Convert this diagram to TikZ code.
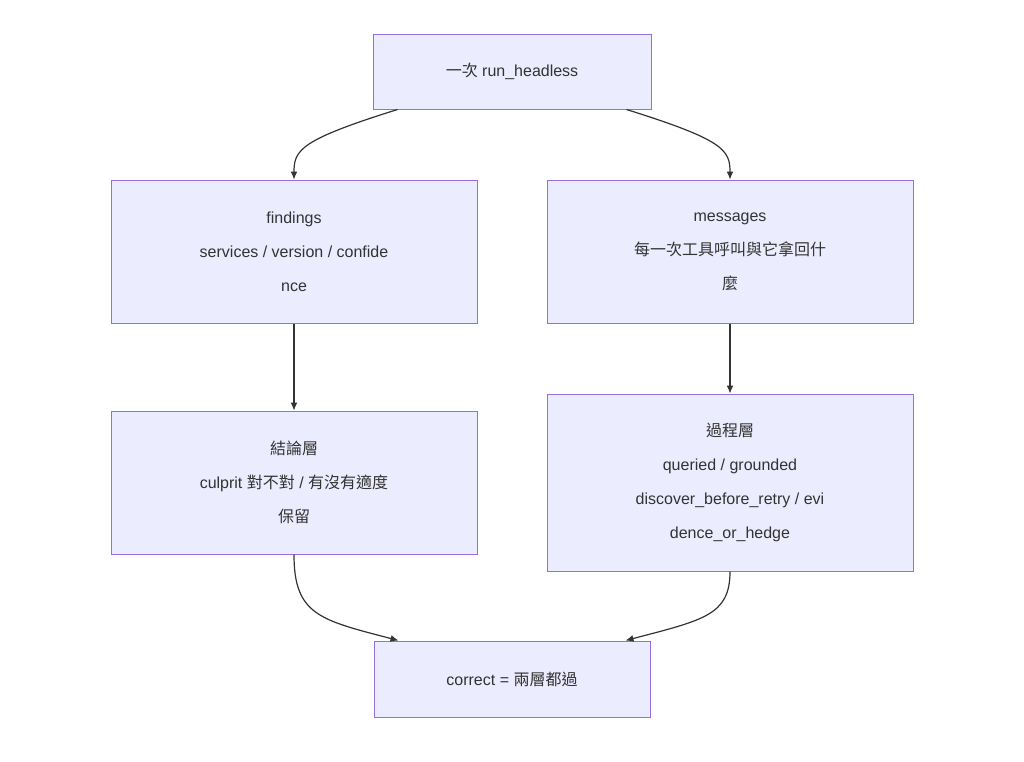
\documentclass[tikz,border=0pt]{standalone}
\usepackage{fontspec}
\usetikzlibrary{arrows.meta}
\setmainfont{Liberation Sans}
\newfontfamily\cjk{Noto Sans CJK TC}
\newcommand{\zh}[1]{{\cjk #1}}
\definecolor{nodefill}{HTML}{ECECFF}
\definecolor{nodeline}{HTML}{9370DB}
\definecolor{txt}{HTML}{333333}
\begin{document}
\begin{tikzpicture}[x=1pt,y=-1pt,
  box/.style={draw=nodeline,fill=nodefill,line width=1pt,inner sep=0pt,align=center,text=txt,
    font=\fontsize{16pt}{34pt}\selectfont},
  arr/.style={draw=txt,line width=1.2pt,-{Latex[length=8pt,width=7pt]}}]
\useasboundingbox (0,0) rectangle (1024,761);
\node[box,minimum width=278pt,minimum height=75pt] (top) at (512,71.5) {\zh{一次} run\_headless};
\node[box,minimum width=366pt,minimum height=143pt] (find) at (294,251.5) {findings\\services / version / confide\\nce};
\node[box,minimum width=366pt,minimum height=143pt] (msg) at (730,251.5) {messages\\\zh{每一次工具呼叫與它拿回什}\\\zh{麼}};
\node[box,minimum width=366pt,minimum height=143pt] (concl) at (294,482.5) {\zh{結論層}\\culprit \zh{對不對} / \zh{有沒有適度}\\\zh{保留}};
\node[box,minimum width=366pt,minimum height=177pt] (proc) at (730,482.5) {\zh{過程層}\\queried / grounded\\discover\_before\_retry / evi\\dence\_or\_hedge};
\node[box,minimum width=276pt,minimum height=76pt] (corr) at (512,679) {correct = \zh{兩層都過}};
\draw[arr] ([xshift=25pt]top.south west) .. controls (300,140) and (294,150) .. (find.north);
\draw[arr] ([xshift=-25pt]top.south east) .. controls (724,140) and (730,150) .. (msg.north);
\draw[arr] (find.south) -- (concl.north);
\draw[arr] (msg.south) -- (proc.north);
\draw[arr] (concl.south) .. controls (294,615) and (320,620) .. ([xshift=25pt]corr.north west);
\draw[arr] (proc.south) .. controls (730,615) and (704,620) .. ([xshift=-25pt]corr.north east);
\end{tikzpicture}
\end{document}
